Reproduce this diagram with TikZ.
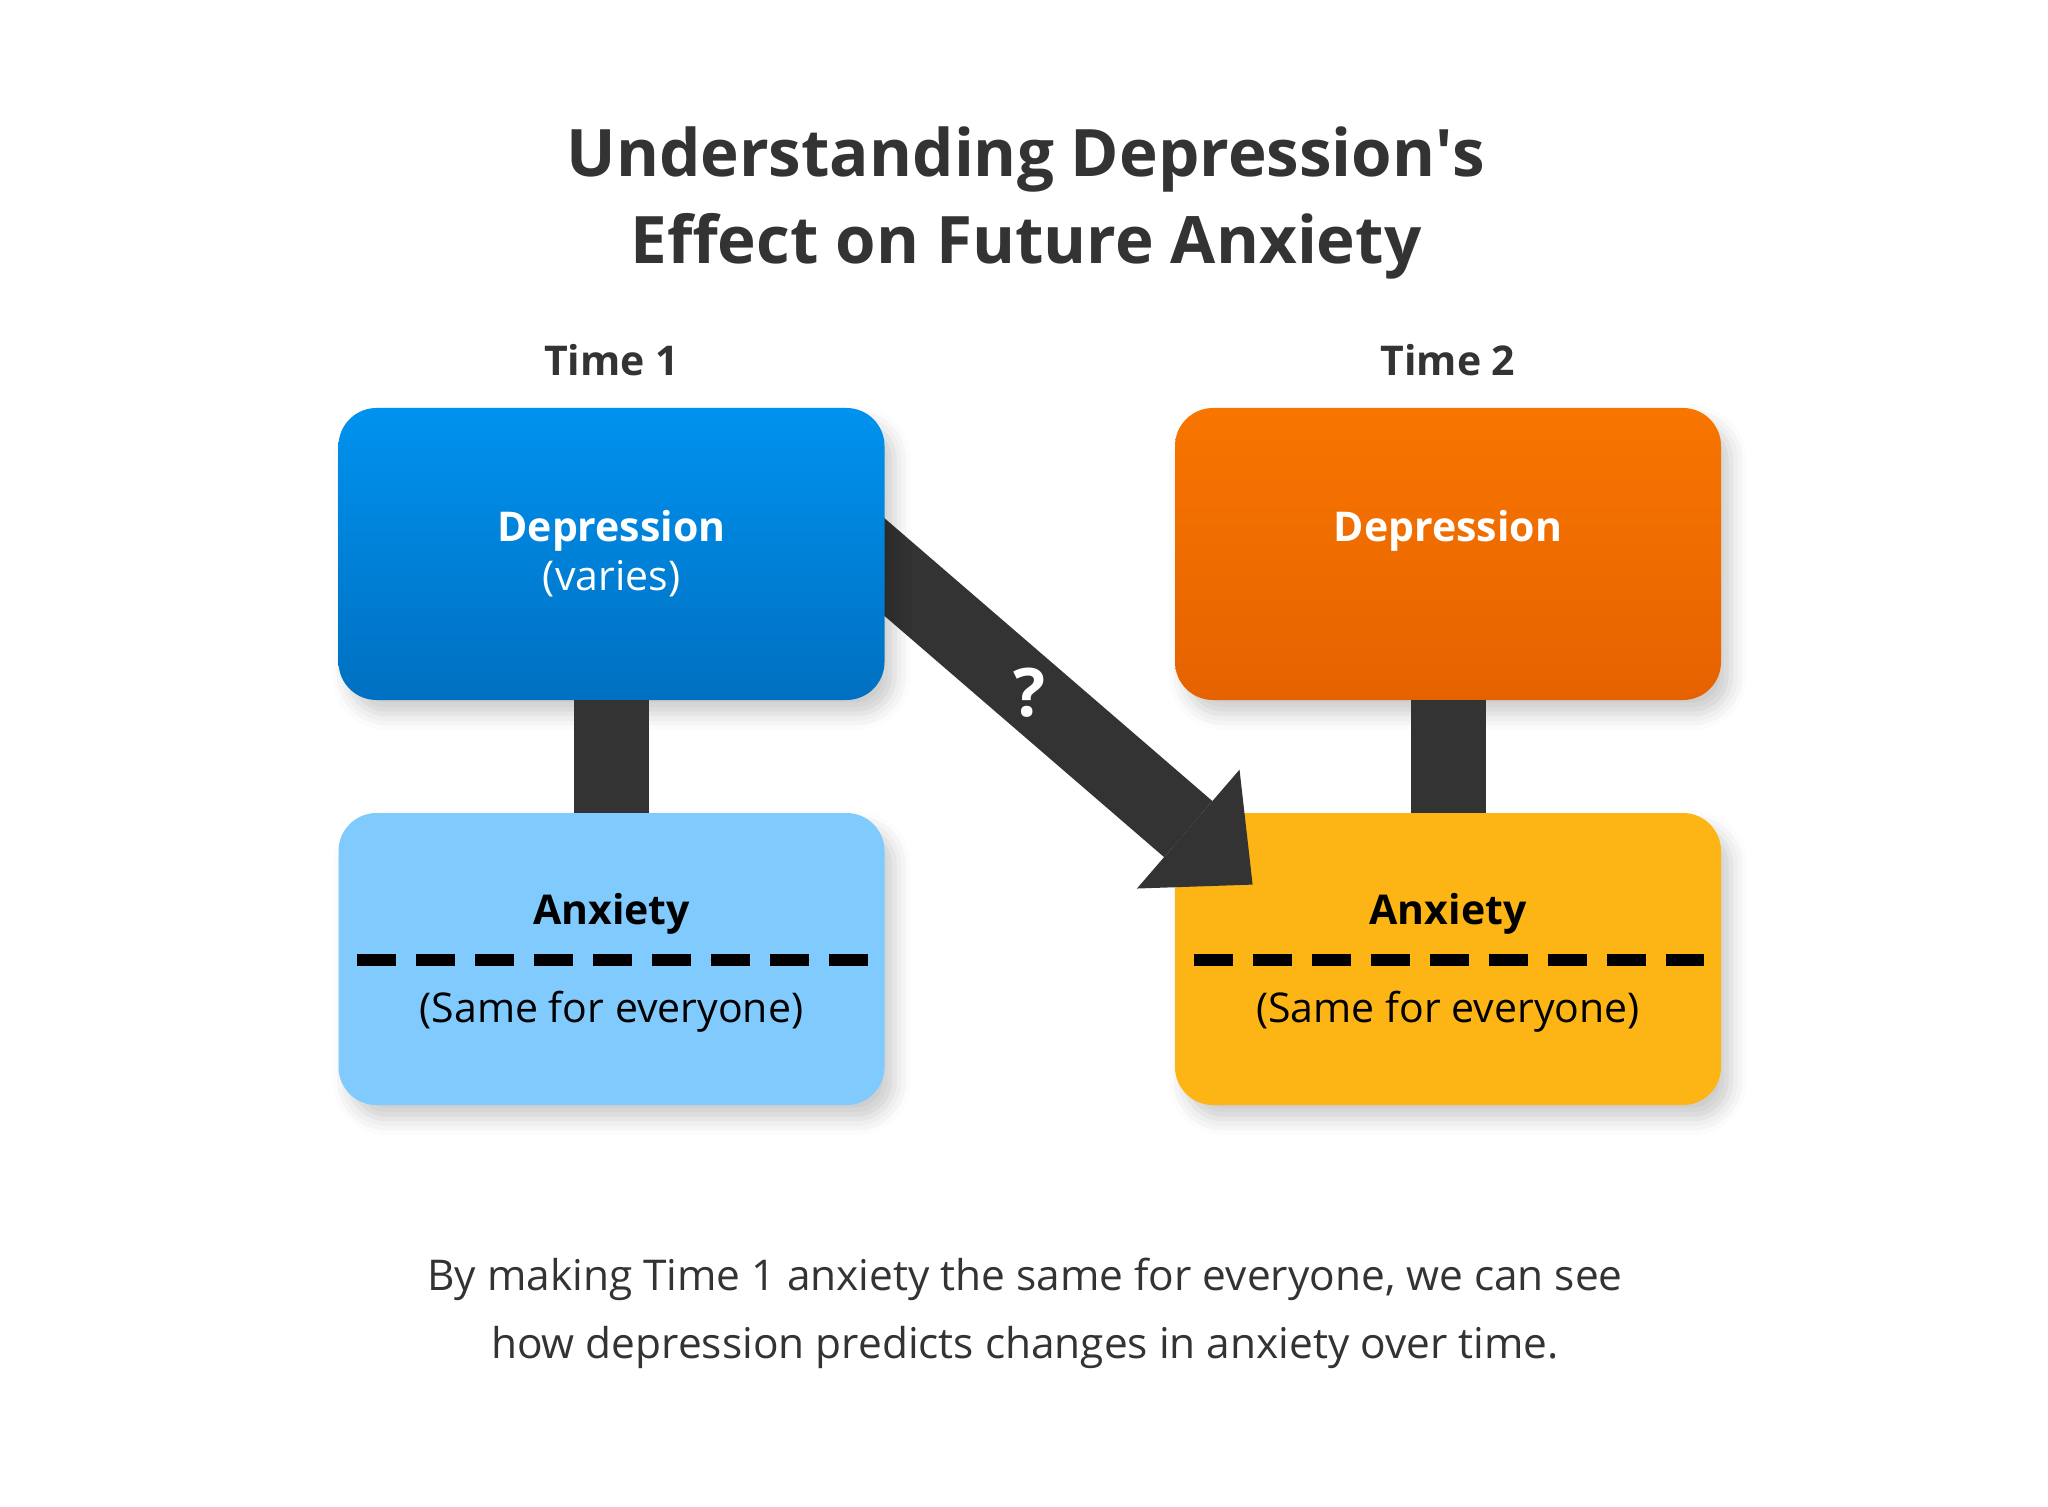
\documentclass[tikz,border=0pt]{standalone}
\usepackage{fontspec}
\setmainfont{Open Sans}
\usetikzlibrary{arrows.meta,shadows.blur,calc}
\definecolor{inktext}{HTML}{333333}
\definecolor{darkbar}{HTML}{333333}
\definecolor{blueTop}{HTML}{0092EF}
\definecolor{blueBot}{HTML}{0070C1}
\definecolor{blueLight}{HTML}{80CAFE}
\definecolor{orangeTop}{HTML}{F87500}
\definecolor{orangeBot}{HTML}{E56200}
\definecolor{amber}{HTML}{FDB415}
\tikzset{
  box/.style={rectangle,rounded corners=19pt,minimum width=273pt,minimum height=146pt,inner sep=0pt,
    blur shadow={shadow xshift=5pt,shadow yshift=-7pt,shadow blur radius=8pt,shadow opacity=20}},
  heading/.style={anchor=base,text=inktext,font=\fontsize{32.75pt}{40pt}\selectfont\bfseries},
  timelbl/.style={anchor=base,text=inktext,font=\fontsize{20.5pt}{24pt}\selectfont\bfseries},
  boxtitle/.style={anchor=base,font=\fontsize{20.5pt}{24pt}\selectfont\bfseries},
  boxnote/.style={anchor=base,font=\fontsize{20.5pt}{24pt}\selectfont},
  capline/.style={anchor=base,text=inktext,font=\fontsize{21.2pt}{26pt}\selectfont},
  bar/.style={draw=darkbar,line width=37.5pt},
  dashline/.style={draw=black,line width=6pt,dash pattern=on 19.5pt off 10pt},
  bigarrow/.style={draw=darkbar,line width=37pt,-{Triangle[width=78.5pt,length=42.5pt,line width=0pt]}},
  qmark/.style={text=white,font=\fontsize{33.5pt}{40pt}\selectfont\bfseries}
}
\begin{document}
\begin{tikzpicture}[x=0.5pt,y=-0.5pt]
  \useasboundingbox (0,0) rectangle (2048,1507);
  % title
  \node[heading] (head1) at (1026,177) {Understanding Depression\textquotesingle s};
  \node[heading] (head2) at (1026,264) {Effect on Future Anxiety};
  \node[timelbl] (time1) at (611.5,376) {Time 1};
  \node[timelbl] (time2) at (1448,376) {Time 2};
  % boxes
  \node[box,fill=blueLight] (anx1) at (611.5,959) {};
  \node[box,top color=orangeTop,bottom color=orangeBot] (dep2) at (1448,554) {};
  \node[box,fill=amber] (anx2) at (1448,959) {};
  \node[boxtitle,text=white] (dep2lbl) at (1448,542) {Depression};
  \node[boxtitle,text=black] (anx1lbl) at (611.5,924) {Anxiety};
  \node[boxtitle,text=black] (anx2lbl) at (1448,924) {Anxiety};
  \draw[dashline] ($(anx1.west)+(19,1)$) -- ($(anx1.east)+(-17,1)$);
  \draw[dashline] ($(anx2.west)+(19,1)$) -- ($(anx2.east)+(-17,1)$);
  \node[boxnote,text=black] (anx1note) at (611.5,1022) {(Same for everyone)};
  \node[boxnote,text=black] (anx2note) at (1448,1022) {(Same for everyone)};
  % the ? arrow, its start hidden under the first box
  \coordinate (qstart) at ($(anx1.north east)+(-45,-284)$);
  \coordinate (qtip) at ($(anx2.north west)+(78,72)$);
  \draw[bigarrow] (qstart) -- node[pos=0.46,qmark] (qlbl) {?} (qtip);
  \node[box,top color=blueTop,bottom color=blueBot] (dep1) at (611.5,554) {};
  \node[boxtitle,text=white] (dep1lbl) at (611.5,542) {Depression};
  \node[boxnote,text=white] (dep1note) at (611.5,590) {(varies)};
  % connectors
  \draw[bar] (dep1.south) -- (anx1.north);
  \draw[bar] (dep2.south) -- (anx2.north);
  % caption
  \node[capline] (cap1) at (1025,1290) {By making Time 1 anxiety the same for everyone, we can see};
  \node[capline] (cap2) at (1025,1358) {how depression predicts changes in anxiety over time.};
\end{tikzpicture}
\end{document}
